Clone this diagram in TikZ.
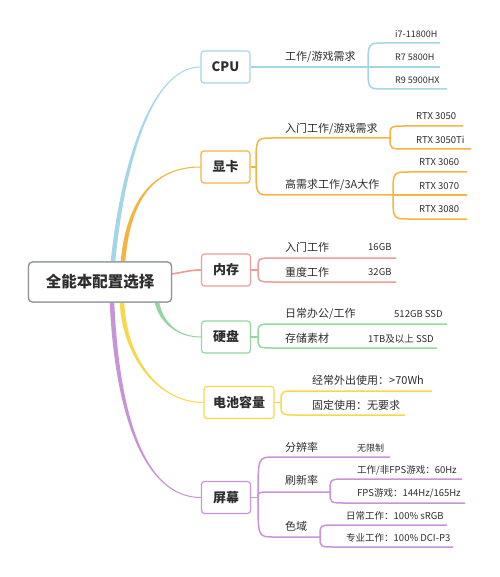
\documentclass[tikz,border=0pt]{standalone}
\usepackage{fontspec}
\setmainfont{Noto Sans CJK SC}
\usetikzlibrary{calc}
\definecolor{cpuc}{HTML}{A3D6E6}
\definecolor{gpuc}{HTML}{F5B440}
\definecolor{memc}{HTML}{EE9C9C}
\definecolor{diskc}{HTML}{96D6A2}
\definecolor{batc}{HTML}{F7D84C}
\definecolor{scrc}{HTML}{C794D8}
\definecolor{rootc}{HTML}{8E979F}
\definecolor{txt}{HTML}{2E2E2E}
\newcommand\lbranch[3]{\draw[sub,#1] (#2) .. controls (#2 |- #3) .. ($(#2 |- #3)+(16,0)$) -- (#3);}
\newcommand\taper[6]{%
\fill[#1] ($(#2)+(-2.3,0)$) .. controls ($(#4)+(-2.1,0)$) and ($(#5)+(0,-0.6*#6)$) .. ($(#3)+(0,-0.5*#6)$) -- ($(#3)+(0,0.5*#6)$) .. controls ($(#5)+(0,0.6*#6)$) and ($(#4)+(2.1,0)$) .. ($(#2)+(2.3,0)$) -- cycle;}
\begin{document}
\begin{tikzpicture}[x=1pt,y=-1pt,
  box/.style={draw, rounded corners=3pt, line width=1.2pt, fill=white, minimum height=32pt, minimum width=49pt, inner xsep=9pt, font=\bfseries\fontsize{13}{13}\selectfont, text=txt},
  rootbox/.style={draw=rootc, rounded corners=4pt, line width=1.3pt, fill=white, minimum height=40pt, minimum width=143pt, font=\bfseries\fontsize{15.5}{15.5}\selectfont, text=txt},
  lab/.style={anchor=west, inner sep=0pt, text height=9.7pt, text depth=1.3pt, font=\fontsize{11}{11}\selectfont, text=txt},
  val/.style={anchor=west, inner sep=0pt, text height=8.4pt, text depth=1.1pt, font=\fontsize{9.5}{9.5}\selectfont, text=txt},
  sval/.style={val, font=\fontsize{9}{9}\selectfont},
  sub/.style={line width=1.5pt}]
\fill[white] (0,0) rectangle (499,577);
\useasboundingbox (0,0) rectangle (499,577);

% main nodes
\node[rootbox] (root) at (100,282) {全能本配置选择};
\node[box, draw=cpuc] (cpu) at (225.5,67) {CPU};
\node[box, draw=gpuc] (gpu) at (225.5,167) {显卡};
\node[box, draw=memc] (mem) at (226,270) {内存};
\node[box, draw=diskc] (disk) at (226,337) {硬盘};
\node[box, draw=batc] (bat) at (239,402.5) {电池容量};
\node[box, draw=scrc] (scr) at (226,497.5) {屏幕};

% main connectors
\coordinate (a1) at ($(root.north)+(13,0)$);
\coordinate (a2) at ($(root.north)+(23,0)$);
\coordinate (a3) at ($(root.east)+(0,-8)$);
\coordinate (a4) at ($(root.south)+(57,0)$);
\coordinate (a5) at ($(root.south)+(22,0)$);
\coordinate (a6) at ($(root.south)+(12,0)$);
\taper{cpuc}{a1}{cpu.west}{122,170}{150,67}{1}
\taper{gpuc}{a2}{gpu.west}{128,205}{150,167}{1}
\draw[memc, line width=1.7pt] (a3) .. controls (185,272) and (190,270) .. (mem.west);
\taper{diskc}{a4}{disk.west}{162,325}{180,337}{-1}
\taper{batc}{a5}{bat.west}{125,360}{160,402.5}{-1}
\taper{scrc}{a6}{scr.west}{118,430}{150,497.5}{-1}
% redraw root on top
\node[rootbox] at (root) {全能本配置选择};

% CPU branch
\coordinate (cs) at (368,67);
\coordinate (c1) at (440,43);
\coordinate (c2) at (440,67);
\coordinate (c3) at (447,89);
\draw[sub,cpuc] (cpu.east) -- (cs);
\lbranch{cpuc}{cs}{c1}
\lbranch{cpuc}{cs}{c2}
\lbranch{cpuc}{cs}{c3}
\node[lab] (cl) at (285,56) {工作/游戏需求};
\node[sval] (cv1) at (395,34) {i7-11800H};
\node[sval] (cv2) at (395,57) {R7 5800H};
\node[sval] (cv3) at (395,80) {R9 5900HX};

% GPU branch
\coordinate (gs) at (256,167);
\coordinate (g1s) at (390,138);
\coordinate (g2s) at (393,195);
\coordinate (g11) at (463,126);
\coordinate (g12) at (471,149);
\coordinate (g21) at (467,172);
\coordinate (g22) at (467,195);
\coordinate (g23) at (467,219);
\draw[sub,gpuc] (gpu.east) -- (gs);
\lbranch{gpuc}{gs}{g1s}
\lbranch{gpuc}{gs}{g2s}
\lbranch{gpuc}{g1s}{g11}
\lbranch{gpuc}{g1s}{g12}
\lbranch{gpuc}{g2s}{g21}
\lbranch{gpuc}{g2s}{g22}
\lbranch{gpuc}{g2s}{g23}
\node[lab] (gl1) at (285,128) {入门工作/游戏需求};
\node[lab] (gl2) at (285,184) {高需求工作/3A大作};
\node[val] (gv1) at (416,116) {RTX 3050};
\node[val] (gv2) at (416,140) {RTX 3050Ti};
\node[val] (gv3) at (419,162) {RTX 3060};
\node[val] (gv4) at (419,186) {RTX 3070};
\node[val] (gv5) at (419,209) {RTX 3080};

% memory branch
\coordinate (ms) at (258,270);
\coordinate (m1) at (396,258);
\coordinate (m2) at (396,282);
\draw[sub,memc] (mem.east) -- (ms);
\lbranch{memc}{ms}{m1}
\lbranch{memc}{ms}{m2}
\node[lab] (ml1) at (285,247) {入门工作};
\node[val] (mv1) at (368,247) {16GB};
\node[lab] (ml2) at (285,272) {重度工作};
\node[val] (mv2) at (368,272) {32GB};

% disk branch
\coordinate (ds) at (258,337);
\coordinate (d1) at (447,324);
\coordinate (d2) at (437,348);
\draw[sub,diskc] (disk.east) -- (ds);
\lbranch{diskc}{ds}{d1}
\lbranch{diskc}{ds}{d2}
\node[lab] (dl1) at (285,313) {日常办公/工作};
\node[val] (dv1) at (394,314) {512GB SSD};
\node[lab] (dl2) at (285,338) {存储素材};
\node[val] (dv2) at (368,339) {1TB及以上 SSD};

% battery branch
\coordinate (bs) at (281,402.5);
\coordinate (b1) at (432,391);
\coordinate (b2) at (405,415);
\draw[sub,batc] (bat.east) -- (bs);
\lbranch{batc}{bs}{b1}
\lbranch{batc}{bs}{b2}
\node[lab] (bl1) at (312,380) {经常外出使用：>70Wh};
\node[lab] (bl2) at (312,405) {固定使用：无要求};

% screen branch
\coordinate (ss) at (258,497.5);
\coordinate (s1) at (390,457);
\coordinate (rs) at (330,492);
\coordinate (ks) at (320,537);
\coordinate (r1) at (462,479);
\coordinate (r2) at (465,503);
\coordinate (k1) at (447,525);
\coordinate (k2) at (453,547);
\draw[sub,scrc] (scr.east) -- (ss);
\lbranch{scrc}{ss}{s1}
\lbranch{scrc}{ss}{rs}
\lbranch{scrc}{ss}{ks}
\lbranch{scrc}{rs}{r1}
\lbranch{scrc}{rs}{r2}
\lbranch{scrc}{ks}{k1}
\lbranch{scrc}{ks}{k2}
\node[lab] (sl1) at (285,447) {分辨率};
\node[sval] (sv1) at (357,448) {无限制};
\node[lab] (sl2) at (285,480) {刷新率};
\node[val] (sv2) at (357,470) {工作/非FPS游戏：60Hz};
\node[val] (sv3) at (357,493) {FPS游戏：144Hz/165Hz};
\node[lab] (sl3) at (285,526) {色域};
\node[val] (sv4) at (346,516) {日常工作：100\% sRGB};
\node[val] (sv5) at (346,538) {专业工作：100\% DCI-P3};
\end{tikzpicture}
\end{document}
